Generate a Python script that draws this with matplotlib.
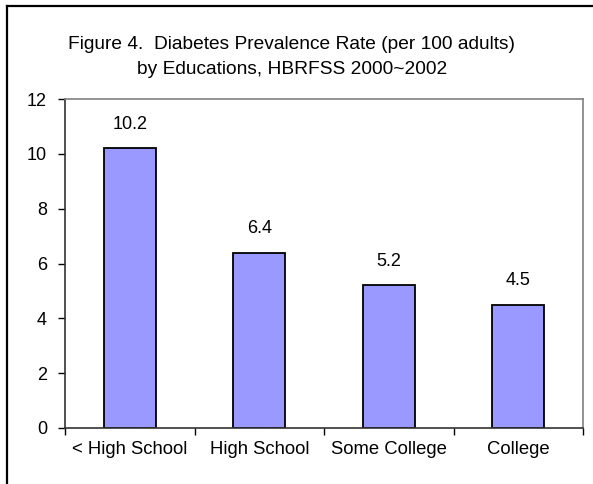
import matplotlib.pyplot as plt
from matplotlib.lines import Line2D

plt.rcParams['font.family'] = ['Liberation Sans', 'DejaVu Sans']

categories = ['< High School', 'High School', 'Some College', 'College']
rates = [10.2, 6.4, 5.2, 4.5]
title = 'Figure 4.  Diabetes Prevalence Rate (per 100 adults)\nby Educations, HBRFSS 2000~2002'

fig = plt.figure(figsize=(5.93, 4.84), dpi=100)
ax = fig.add_axes([65 / 593, 56 / 484, 518 / 593, 329 / 484])

x = range(len(categories))
ax.bar(x, rates, width=0.4, color='#9999FF', edgecolor='black', linewidth=1.3)

for i, v in enumerate(rates):
    ax.annotate(f'{v:.1f}', (i, v), xytext=(0, 11), textcoords='offset points',
                ha='center', va='bottom', fontsize=13)

ax.set_xlim(-0.5, len(categories) - 0.5)
ax.set_ylim(0, 12)
ax.set_yticks(range(0, 13, 2))
ax.tick_params(axis='y', direction='out', length=5, width=1, pad=8, labelsize=13)
# category boundaries carry the tick marks, centres carry the labels
ax.set_xticks([i + 0.5 for i in range(-1, len(categories))])
ax.set_xticklabels([])
ax.set_xticks(list(x), minor=True)
ax.set_xticklabels(categories, minor=True)
ax.tick_params(axis='x', which='major', direction='out', length=5, width=1)
ax.tick_params(axis='x', which='minor', length=0, pad=9, labelsize=13.3)

ax.spines['left'].set_color('#333333')
ax.spines['bottom'].set_color('#333333')
ax.spines['top'].set_color('#808080')
ax.spines['right'].set_color('#808080')
for s in ax.spines.values():
    s.set_linewidth(1.2)

fig.text(292 / 593, 1 - 57 / 484, title, ha='center', va='center',
         fontsize=13.8, linespacing=1.65)

# outer chart border (left and top edges)
fig.add_artist(Line2D([7 / 593, 7 / 593], [0, 1 - 6 / 484], color='black', linewidth=1.6))
fig.add_artist(Line2D([7 / 593, 1], [1 - 6 / 484, 1 - 6 / 484], color='black', linewidth=1.6))

fig.savefig('out.png', dpi=100)
